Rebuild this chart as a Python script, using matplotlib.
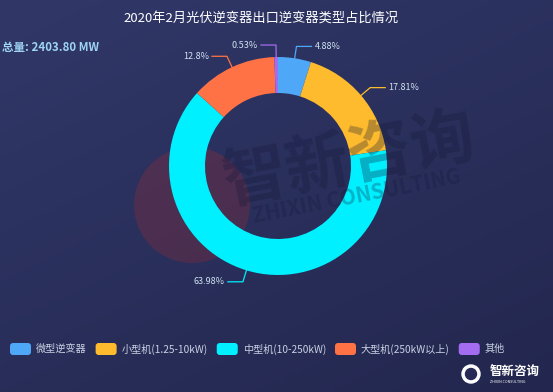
import numpy as np
import matplotlib
matplotlib.use("Agg")
import matplotlib.pyplot as plt
from matplotlib.patches import FancyBboxPatch, Circle
from matplotlib.colors import LinearSegmentedColormap

plt.rcParams['font.family'] = ['Noto Sans CJK SC', 'DejaVu Sans']

title = "2020年2月光伏逆变器出口逆变器类型占比情况"
total_label = "总量: 2403.80 MW"
categories = ["微型逆变器", "小型机(1.25-10kW)", "中型机(10-250kW)", "大型机(250kW以上)", "其他"]
values = [4.88, 17.81, 63.98, 12.8, 0.53]
labels = ["4.88%", "17.81%", "63.98%", "12.8%", "0.53%"]
colors = ["#4fa7f8", "#fdbb2d", "#00f0ff", "#ff7246", "#a46cf0"]

W, H = 553, 392
fig = plt.figure(figsize=(W / 100, H / 100), dpi=100)

# background gradient
bg = fig.add_axes([0, 0, 1, 1])
gy, gx = np.mgrid[0:1:200j, 0:1:200j]
grad = 0.6 * gy + 0.4 * (1 - gx)
cmap = LinearSegmentedColormap.from_list("bg", ["#23274f", "#313868"])
bg.imshow(grad, cmap=cmap, extent=[0, W, 0, H], aspect='auto', origin='lower')
bg.set_xlim(0, W)
bg.set_ylim(0, H)
bg.axis('off')

ax = fig.add_axes([0, 0, 1, 1])
ax.patch.set_alpha(0)

cx, cy, R, width = 278, H - 166, 109, 36

# watermark circle (behind ring)
ax.add_patch(Circle((192, H - 205), 58, color="#8a2d3a", alpha=0.35, lw=0, zorder=1))

wedges, _ = ax.pie(values, colors=colors, startangle=90, counterclock=False,
                   radius=R, center=(cx, cy), frame=True,
                   wedgeprops=dict(width=width, linewidth=0))
for w_ in wedges:
    w_.set_zorder(2)
ax.set_xlim(0, W)
ax.set_ylim(0, H)
ax.set_aspect('equal')
ax.axis('off')

# watermark text (over ring, translucent)
ax.text(349, H - 160, "智新咨询", fontsize=46, fontweight='bold', color="#15183a", alpha=0.3,
        rotation=11, ha='center', va='center', zorder=3)
ax.text(357, H - 196, "ZHIXIN CONSULTING", fontsize=15, fontweight='bold', color="#15183a", alpha=0.28,
        rotation=11, ha='center', va='center', zorder=3)

# labels with leader lines
for w_, lab, col in zip(wedges, labels, colors):
    ang = np.deg2rad((w_.theta1 + w_.theta2) / 2)
    p0 = (cx + R * np.cos(ang), cy + R * np.sin(ang))
    p1 = (cx + (R + 12) * np.cos(ang), cy + (R + 12) * np.sin(ang))
    sgn = 1 if np.cos(ang) >= 0 else -1
    p2 = (p1[0] + sgn * 15, p1[1])
    ax.plot([p0[0], p1[0], p2[0]], [p0[1], p1[1], p2[1]], color=col, lw=0.9, zorder=4)
    ax.text(p2[0] + sgn * 3, p2[1], lab, fontsize=6.5, color="#cfe3f2",
            ha='left' if sgn > 0 else 'right', va='center', zorder=5)

# title and total
ax.text(261, H - 18, title, fontsize=9.5, color="white", ha='center', va='center', zorder=5)
ax.text(2, H - 47, total_label, fontsize=8.3, fontweight='bold', color="#9ed3f3",
        ha='left', va='center', zorder=5)

# legend (manual)
fig.canvas.draw()
renderer = fig.canvas.get_renderer()
x = 10
ly = H - 349
for cat, col in zip(categories, colors):
    ax.add_patch(FancyBboxPatch((x, ly - 6), 21, 12, boxstyle="round,pad=0,rounding_size=3",
                                fc=col, ec='none', zorder=5))
    t = ax.text(x + 26, ly, cat, fontsize=7.3, color="#c9d2e4", ha='left', va='center', zorder=5)
    bb = t.get_window_extent(renderer)
    x = bb.x1 + 9

# logo
ax.add_patch(Circle((471, H - 374), 9, color="white", zorder=5))
ax.add_patch(Circle((471, H - 374), 5.5, color="#262a55", zorder=6))
ax.text(490, H - 371, "智新咨询", fontsize=9, fontweight='bold', color="white",
        ha='left', va='center', zorder=5)
ax.text(490, H - 382, "ZHIXIN CONSULTING", fontsize=2.6, color="white",
        ha='left', va='center', zorder=5)

fig.savefig("out.png", dpi=100, facecolor="#2a2e5c")
